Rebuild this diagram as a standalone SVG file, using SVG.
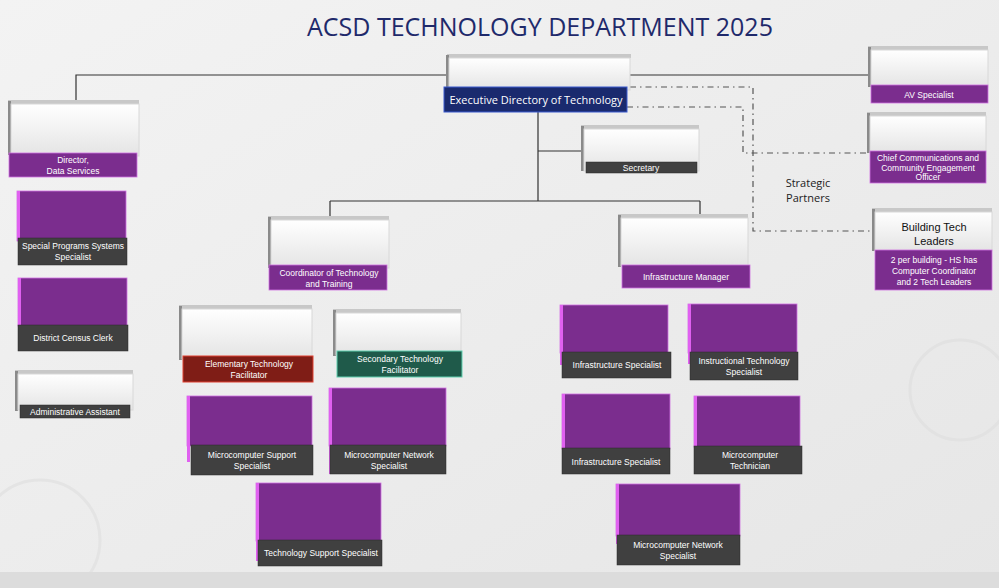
<svg xmlns="http://www.w3.org/2000/svg" width="999" height="588" viewBox="0 0 999 588">
<defs>
<linearGradient id="bg" x1="0" y1="0" x2="1" y2="1"><stop offset="0" stop-color="#f3f3f3"/><stop offset="1" stop-color="#e6e6e6"/></linearGradient>
<linearGradient id="wg" x1="0" y1="0" x2="0" y2="1"><stop offset="0" stop-color="#ffffff"/><stop offset="1" stop-color="#e4e4e4"/></linearGradient>
<style>
.t{font-family:"Liberation Sans",sans-serif;font-size:8.5px;fill:#fff;text-anchor:middle}
.w{fill:url(#wg);stroke:#d8d8d8;stroke-width:1}
.pe{fill:#e060f0}
.ge{fill:#8a8a8a}
.gt{fill:#c8c8c8}
.pu{fill:#7b2d8e;stroke:#d070e0;stroke-width:0.8}
.dk{fill:#404040;stroke:#2a2a2a;stroke-width:0.5}
.ln{fill:none;stroke:#333;stroke-width:1.2}
.dl{fill:none;stroke:#555;stroke-width:1.2;stroke-dasharray:6 4 1.5 4}
</style>
</defs>
<rect width="999" height="588" fill="url(#bg)"/>
<circle cx="960" cy="390" r="50" fill="none" stroke="#e2e2e2" stroke-width="3"/>
<circle cx="40" cy="540" r="60" fill="none" stroke="#e4e4e4" stroke-width="3"/>
<rect x="0" y="572" width="999" height="16" fill="#dcdcdc"/>
<text x="540" y="36" font-family="Open Sans,Liberation Sans,sans-serif" font-size="25" fill="#1f2a6b" text-anchor="middle">ACSD TECHNOLOGY DEPARTMENT 2025</text>
<g id="connectors">
<path class="ln" d="M447,75 H76 V103"/>
<path class="ln" d="M630,75 H871"/>
<path class="ln" d="M538,112 V201 M538,151 H581 M330,201 H700 M330,201 V220 M700,201 V220"/>
<path class="dl" d="M630,87 H753 V231 H875"/>
<path class="dl" d="M627,107 H743 V153 H867"/>
</g>
<text x="808" y="187" font-family="Open Sans,Liberation Sans,sans-serif" font-size="11" fill="#222" text-anchor="middle">Strategic</text>
<text x="808" y="202" font-family="Open Sans,Liberation Sans,sans-serif" font-size="11" fill="#222" text-anchor="middle">Partners</text>

<g id="exec"><rect class="gt" x="447" y="54" width="184" height="4"/><rect class="ge" x="446" y="55" width="3" height="35"/><rect class="w" x="449" y="58" width="181" height="32"/><rect x="444" y="87" width="183" height="25" fill="#1a2a6e" stroke="#3a5ad0"/><text x="536" y="104" font-family="Open Sans,Liberation Sans,sans-serif" font-size="11" fill="#fff" text-anchor="middle">Executive Directory of Technology</text></g>

<g id="director"><rect class="gt" x="8" y="100" width="131" height="4"/><rect class="ge" x="8" y="101" width="3" height="54"/><rect class="w" x="11" y="104" width="128" height="52"/><rect class="pu" x="9" y="153" width="128" height="24"/><text class="t" x="73" y="163">Director,</text><text class="t" x="73" y="174">Data Services</text></g>

<g id="sps"><rect class="pu" x="17" y="191" width="109" height="50"/><rect class="pe" x="17" y="191" width="3" height="50"/><rect class="dk" x="18" y="238" width="109" height="27"/><text class="t" x="73" y="249">Special Programs Systems</text><text class="t" x="73" y="260">Specialist</text></g>

<g id="census"><rect class="pu" x="18" y="278" width="109" height="48"/><rect class="pe" x="18" y="278" width="3" height="48"/><rect class="dk" x="18" y="325" width="110" height="26"/><text class="t" x="73" y="341">District Census Clerk</text></g>

<g id="admin"><rect class="gt" x="15" y="370" width="118" height="4"/><rect class="ge" x="15" y="371" width="3" height="40"/><rect class="w" x="18" y="374" width="115" height="36"/><rect class="dk" x="20" y="405" width="110" height="13"/><text class="t" x="75" y="415">Administrative Assistant</text></g>

<g id="secretary"><rect class="gt" x="581" y="125" width="118" height="4"/><rect class="ge" x="581" y="126" width="3" height="45"/><rect class="w" x="584" y="129" width="115" height="42"/><rect class="dk" x="586" y="162" width="111" height="11"/><text class="t" x="641" y="171">Secretary</text></g>

<g id="coord"><rect class="gt" x="268" y="216" width="121" height="4"/><rect class="ge" x="268" y="217" width="3" height="51"/><rect class="w" x="271" y="220" width="118" height="48"/><rect class="pu" x="269" y="265" width="118" height="25"/><text class="t" x="329" y="276">Coordinator of Technology</text><text class="t" x="329" y="287">and Training</text></g>

<g id="infra-mgr"><rect class="gt" x="618" y="214" width="130" height="4"/><rect class="ge" x="618" y="215" width="3" height="52"/><rect class="w" x="621" y="218" width="127" height="48"/><rect class="pu" x="622" y="265" width="128" height="23"/><text class="t" x="686" y="280">Infrastructure Manager</text></g>

<g id="elem"><rect class="gt" x="179" y="305" width="133" height="4"/><rect class="ge" x="179" y="306" width="3" height="54"/><rect class="w" x="182" y="309" width="130" height="50"/><rect x="183" y="356" width="130" height="26" fill="#7f1d16" stroke="#e04030"/><text class="t" x="249" y="367">Elementary Technology</text><text class="t" x="249" y="378">Facilitator</text></g>

<g id="sec"><rect class="gt" x="333" y="309" width="128" height="4"/><rect class="ge" x="333" y="310" width="3" height="46"/><rect class="w" x="336" y="313" width="125" height="42"/><rect x="337" y="351" width="125" height="26" fill="#1f5a4a" stroke="#60d0b0"/><text class="t" x="400" y="362">Secondary Technology</text><text class="t" x="400" y="373">Facilitator</text></g>

<g id="mss"><rect class="pu" x="187" y="396" width="125" height="50"/><rect class="pe" x="187" y="396" width="3" height="66"/><rect class="dk" x="191" y="445" width="122" height="30"/><text class="t" x="252" y="458">Microcomputer Support</text><text class="t" x="252" y="469">Specialist</text></g>

<g id="mns1"><rect class="pu" x="329" y="388" width="117" height="58"/><rect class="pe" x="329" y="388" width="3" height="86"/><rect class="dk" x="330" y="445" width="116" height="29"/><text class="t" x="389" y="458">Microcomputer Network</text><text class="t" x="389" y="469">Specialist</text></g>

<g id="tss"><rect class="pu" x="256" y="483" width="125" height="58"/><rect class="pe" x="256" y="483" width="3" height="78"/><rect class="dk" x="258" y="540" width="124" height="26"/><text class="t" x="321" y="556">Technology  Support Specialist</text></g>

<g id="is1"><rect class="pu" x="560" y="305" width="108" height="48"/><rect class="pe" x="560" y="305" width="3" height="60"/><rect class="dk" x="562" y="352" width="109" height="26"/><text class="t" x="617" y="368">Infrastructure Specialist</text></g>

<g id="its"><rect class="pu" x="688" y="304" width="109" height="49"/><rect class="pe" x="688" y="304" width="3" height="60"/><rect class="dk" x="690" y="352" width="108" height="28"/><text class="t" x="744" y="364">Instructional Technology</text><text class="t" x="744" y="375">Specialist</text></g>

<g id="is2"><rect class="pu" x="562" y="394" width="108" height="55"/><rect class="pe" x="562" y="394" width="3" height="60"/><rect class="dk" x="562" y="448" width="108" height="26"/><text class="t" x="616" y="465">Infrastructure Specialist</text></g>

<g id="mt"><rect class="pu" x="694" y="396" width="106" height="51"/><rect class="pe" x="694" y="396" width="3" height="50"/><rect class="dk" x="694" y="446" width="108" height="28"/><text class="t" x="750" y="458">Microcomputer</text><text class="t" x="750" y="469">Technician</text></g>

<g id="mns2"><rect class="pu" x="616" y="484" width="124" height="52"/><rect class="pe" x="616" y="484" width="3" height="60"/><rect class="dk" x="617" y="535" width="123" height="30"/><text class="t" x="678" y="548">Microcomputer Network</text><text class="t" x="678" y="559">Specialist</text></g>

<g id="av"><rect class="gt" x="868" y="46" width="120" height="4"/><rect class="ge" x="868" y="47" width="3" height="40"/><rect class="w" x="871" y="50" width="117" height="37"/><rect class="pu" x="871" y="85" width="117" height="18"/><text class="t" x="929" y="98">AV Specialist</text></g>

<g id="cco"><rect class="gt" x="867" y="112" width="119" height="4"/><rect class="ge" x="867" y="113" width="3" height="40"/><rect class="w" x="870" y="116" width="116" height="37"/><rect class="pu" x="870" y="151" width="116" height="32"/><text class="t" x="928" y="161" font-size="7.5">Chief Communications and</text><text class="t" x="928" y="170.5" font-size="7.5">Community Engagement</text><text class="t" x="928" y="180" font-size="7.5">Officer</text></g>

<g id="btl"><rect class="gt" x="872" y="208" width="120" height="4"/><rect class="ge" x="872" y="209" width="3" height="42"/><rect class="w" x="875" y="212" width="117" height="39"/><text x="934" y="231" font-family="Liberation Sans,sans-serif" font-size="11" fill="#111" text-anchor="middle">Building Tech</text><text x="934" y="245" font-family="Liberation Sans,sans-serif" font-size="11" fill="#111" text-anchor="middle">Leaders</text><rect class="pu" x="875" y="250" width="117" height="40"/><text class="t" x="934" y="263">2 per building  - HS has</text><text class="t" x="934" y="274">Computer Coordinator</text><text class="t" x="934" y="285">and 2 Tech Leaders</text></g>
</svg>
